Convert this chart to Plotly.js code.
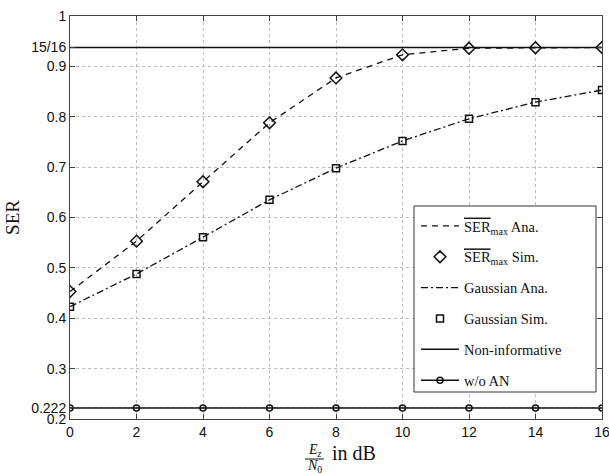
<!DOCTYPE html>
<html>
<head>
<meta charset="utf-8">
<script src="https://cdn.plot.ly/plotly-3.0.1.min.js"></script>
<style>
  html, body { margin: 0; padding: 0; background: #fff; }
  #chart { width: 609px; height: 474px; }
</style>
</head>
<body>
<div id="chart"></div>
<script>
// SNR grid (dB)
const snr = [0, 2, 4, 6, 8, 10, 12, 14, 16];

// Upper bound of SER (analytical and simulated)
const serMaxAna = [0.453, 0.553, 0.671, 0.788, 0.877, 0.923, 0.936, 0.937, 0.9375];
const serMaxSim = [0.453, 0.553, 0.671, 0.788, 0.877, 0.923, 0.936, 0.937, 0.9375];

// Gaussian artificial noise (analytical and simulated)
const gaussAna = [0.423, 0.488, 0.561, 0.635, 0.698, 0.752, 0.796, 0.829, 0.853];
const gaussSim = [0.423, 0.488, 0.561, 0.635, 0.698, 0.752, 0.796, 0.829, 0.853];

// Reference levels
const nonInformative = 15 / 16;
const withoutAN = 0.222;

const yTickVals = [0.2, 0.222, 0.3, 0.4, 0.5, 0.6, 0.7, 0.8, 0.9, 0.9375, 1];
const yTickText = ['0.2', '0.222', '0.3', '0.4', '0.5', '0.6', '0.7', '0.8', '0.9', '15/16', '1'];
const xTickVals = [0, 2, 4, 6, 8, 10, 12, 14, 16];

const serLabel = '<span style="text-decoration:overline">SER</span><sub>max</sub>';
const ink = '#111';
const serif = 'Liberation Serif, Times New Roman, serif';

const traces = [
  {
    x: snr, y: serMaxAna, mode: 'lines', name: serLabel + ' Ana.',
    line: { color: ink, width: 1.3, dash: '6px,5px' }, legendgroup: 'a'
  },
  {
    x: snr, y: serMaxSim, mode: 'markers', name: serLabel + ' Sim.',
    marker: { symbol: 'diamond-open', size: 9, color: ink, line: { width: 1.5, color: ink } },
    legendgroup: 'b'
  },
  {
    x: snr, y: gaussAna, mode: 'lines', name: 'Gaussian Ana.',
    line: { color: ink, width: 1.3, dash: '7px,3px,2px,3px' }, legendgroup: 'c'
  },
  {
    x: snr, y: gaussSim, mode: 'markers', name: 'Gaussian Sim.',
    marker: { symbol: 'square-open', size: 7, color: ink, line: { width: 1.5, color: ink } },
    legendgroup: 'd'
  },
  {
    x: snr, y: snr.map(() => nonInformative), mode: 'lines', name: 'Non-informative',
    line: { color: ink, width: 1.5 }, legendgroup: 'e'
  },
  {
    x: snr, y: snr.map(() => withoutAN), mode: 'lines+markers', name: 'w/o AN',
    line: { color: ink, width: 1.5 },
    marker: { symbol: 'circle-open', size: 6, color: ink, line: { width: 1.5, color: ink } },
    legendgroup: 'f'
  }
];

const axisCommon = {
  showline: true, mirror: 'ticks', linecolor: '#444', linewidth: 1,
  ticks: 'inside', ticklen: 5, tickcolor: '#444',
  showgrid: true, gridcolor: '#bbb', griddash: 'dot', gridwidth: 1,
  zeroline: false, ticklabeloverflow: 'allow',
  tickfont: { family: 'Liberation Sans, Arial, sans-serif', size: 14, color: '#111' }
};

// pixel helpers for placing boxes and labels relative to the plot area
const px = (v) => (v - 70) / 532;
const py = (v) => 1 - (v - 16) / 403;

const layout = {
  width: 609, height: 474,
  margin: { l: 70, r: 7, t: 16, b: 55 },
  paper_bgcolor: '#fff', plot_bgcolor: '#fff',
  showlegend: true,
  legend: {
    x: px(416), y: py(210), xanchor: 'left', yanchor: 'top',
    bgcolor: 'rgba(0,0,0,0)', borderwidth: 0,
    font: { family: serif, size: 14.5, color: '#111' },
    tracegroupgap: 9,
    itemwidth: 38
  },
  xaxis: Object.assign({}, axisCommon, {
    range: [-0.0001, 16.0001], tickvals: xTickVals, ticktext: xTickVals.map(String)
  }),
  yaxis: Object.assign({}, axisCommon, {
    range: [0.2, 1], tickvals: yTickVals, ticktext: yTickText,
    title: { text: 'SER', standoff: 6, font: { family: serif, size: 19, color: '#111' } }
  }),
  shapes: [
    // legend frame
    { type: 'rect', xref: 'paper', yref: 'paper', layer: 'above',
      x0: px(414), x1: px(596), y0: py(392), y1: py(206),
      fillcolor: '#fff', line: { color: '#333', width: 1 } },
    // fraction bar of the x-axis label
    { type: 'line', xref: 'paper', yref: 'paper',
      x0: px(305), x1: px(324), y0: py(459), y1: py(459),
      line: { color: '#111', width: 1 } }
  ],
  annotations: [
    { xref: 'paper', yref: 'paper', x: px(314.5), y: py(450),
      text: '<i>E<sub>z</sub></i>', showarrow: false, xanchor: 'center', yanchor: 'middle',
      font: { family: serif, size: 14, color: '#111' } },
    { xref: 'paper', yref: 'paper', x: px(314.5), y: py(466),
      text: '<i>N</i><sub>0</sub>', showarrow: false, xanchor: 'center', yanchor: 'middle',
      font: { family: serif, size: 14, color: '#111' } },
    { xref: 'paper', yref: 'paper', x: px(330), y: py(453),
      text: 'in dB', showarrow: false, xanchor: 'left', yanchor: 'middle',
      font: { family: serif, size: 20, color: '#111' } }
  ]
};

Plotly.newPlot('chart', traces, layout, { displayModeBar: false, staticPlot: true });
</script>
</body>
</html>
